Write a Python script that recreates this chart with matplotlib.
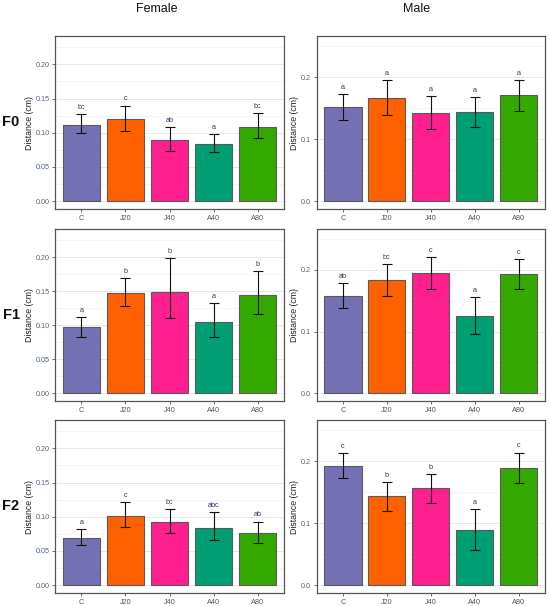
import matplotlib
matplotlib.use("Agg")
import matplotlib.pyplot as plt
from matplotlib.ticker import MultipleLocator
import numpy as np

groups = ["C", "J20", "J40", "A40", "A80"]
colors = ["#7570b3", "#ff6100", "#ff1f8f", "#009e73", "#33a900"]

# Female
f0_mean = [0.112, 0.120, 0.090, 0.0835, 0.109]
f0_lo = [0.0995, 0.1029, 0.0728, 0.0714, 0.0917]
f0_hi = [0.1267, 0.1398, 0.1087, 0.0976, 0.1286]
f0_let = ["bc", "c", "ab", "a", "bc"]

f1_mean = [0.0971, 0.148, 0.1495, 0.1053, 0.1447]
f1_lo = [0.0825, 0.1277, 0.1107, 0.0825, 0.116]
f1_hi = [0.1126, 0.1687, 0.1985, 0.1325, 0.1791]
f1_let = ["a", "b", "b", "a", "b"]

f2_mean = [0.0691, 0.1007, 0.0925, 0.0842, 0.0759]
f2_lo = [0.0584, 0.0847, 0.0769, 0.0657, 0.0618]
f2_hi = [0.0822, 0.1212, 0.111, 0.1075, 0.093]
f2_let = ["a", "c", "bc", "abc", "ab"]

# Male
m0_mean = [0.152, 0.1672, 0.1425, 0.1435, 0.1715]
m0_lo = [0.1312, 0.1387, 0.116, 0.120, 0.1457]
m0_hi = [0.1726, 0.196, 0.170, 0.168, 0.196]
m0_let = ["a", "a", "a", "a", "a"]

m1_mean = [0.1584, 0.1838, 0.1957, 0.126, 0.1935]
m1_lo = [0.139, 0.1584, 0.1697, 0.0968, 0.1686]
m1_hi = [0.1795, 0.2103, 0.2211, 0.1562, 0.2173]
m1_let = ["ab", "bc", "c", "a", "c"]

m2_mean = [0.1925, 0.1435, 0.1565, 0.0887, 0.1892]
m2_lo = [0.1731, 0.1194, 0.1328, 0.0565, 0.1645]
m2_hi = [0.2129, 0.1667, 0.180, 0.1226, 0.214]
m2_let = ["c", "b", "b", "a", "c"]

col_titles = ["Female", "Male"]
row_labels = ["F0", "F1", "F2"]

female = [(f0_mean, f0_lo, f0_hi, f0_let), (f1_mean, f1_lo, f1_hi, f1_let), (f2_mean, f2_lo, f2_hi, f2_let)]
male = [(m0_mean, m0_lo, m0_hi, m0_let), (m1_mean, m1_lo, m1_hi, m1_let), (m2_mean, m2_lo, m2_hi, m2_let)]

fig = plt.figure(figsize=(5.5, 6.06), dpi=100)
plt.rcParams['font.family'] = ['Liberation Sans', 'DejaVu Sans']

row_y = [(36, 209), (229, 401), (420, 593)]
col_x = [(55, 284), (316.5, 545)]
title_x = [157, 417]
W, H = 550.0, 606.0

ytick_col = "#4f6285"
xtick_col = "#555555"
let_col = "#2e3a66"

for r in range(3):
    for c in range(2):
        x0, x1 = col_x[c]
        y0, y1 = row_y[r]
        ax = fig.add_axes([x0 / W, 1 - y1 / H, (x1 - x0) / W, (y1 - y0) / H])
        mean, lo, hi, let = (female if c == 0 else male)[r]
        x = np.arange(len(groups))
        ax.bar(x, mean, width=0.85, color=colors, edgecolor="#5a5a5a", linewidth=0.8, zorder=3)
        yerr = [np.array(mean) - np.array(lo), np.array(hi) - np.array(mean)]
        ax.errorbar(x, mean, yerr=yerr, fmt="none", ecolor="#111111", elinewidth=0.8,
                    capsize=3.3, capthick=0.8, zorder=4)
        for xi, h, l in zip(x, hi, let):
            ax.text(xi, h + 0.0045 if c == 0 else h + 0.005, l, ha="center", va="bottom",
                    fontsize=5.2, color=let_col, zorder=5)
        ax.set_xlim(-0.6, 4.6)
        if c == 0:
            ax.set_ylim(-0.0115, 0.2415)
            ax.yaxis.set_minor_locator(MultipleLocator(0.025))
            ticks = [0.0, 0.05, 0.10, 0.15, 0.20]
            ax.set_yticks(ticks)
            ax.set_yticklabels(["%.2f" % t for t in ticks])
        else:
            ax.set_ylim(-0.0125, 0.2665)
            ax.yaxis.set_minor_locator(MultipleLocator(0.05))
            ticks = [0.0, 0.1, 0.2]
            ax.set_yticks(ticks)
            ax.set_yticklabels(["%.1f" % t for t in ticks])
        ax.set_xticks(x)
        ax.set_xticklabels(groups)
        ax.grid(True, which="major", axis="y", color="#e8e8e8", linewidth=0.7, zorder=0)
        ax.grid(True, which="minor", axis="y", color="#f1f1f1", linewidth=0.5, zorder=0)
        ax.set_axisbelow(True)
        for sp in ax.spines.values():
            sp.set_color("#555555")
            sp.set_linewidth(0.9)
        ax.tick_params(axis="y", which="major", labelsize=5.2, labelcolor=ytick_col,
                       color="#555555", length=2.5, width=0.6, pad=1.5)
        ax.tick_params(axis="y", which="minor", length=0)
        ax.tick_params(axis="x", labelsize=5.2, labelcolor=xtick_col, color="#555555",
                       length=2.5, width=0.6, pad=1.5)
        ax.set_ylabel("Distance (cm)", fontsize=6.3, color="#222222", labelpad=1)
        if r == 0:
            fig.text(title_x[c] / W, 1 - 9 / H, col_titles[c], fontsize=9, color="#111111",
                     ha="center", va="center")
        if c == 0:
            fig.text(11 / W, 1 - ((y0 + y1) / 2) / H, row_labels[r], fontsize=10.5,
                     fontweight="bold", ha="center", va="center", color="#111111")

fig.savefig("out.png", dpi=100)
